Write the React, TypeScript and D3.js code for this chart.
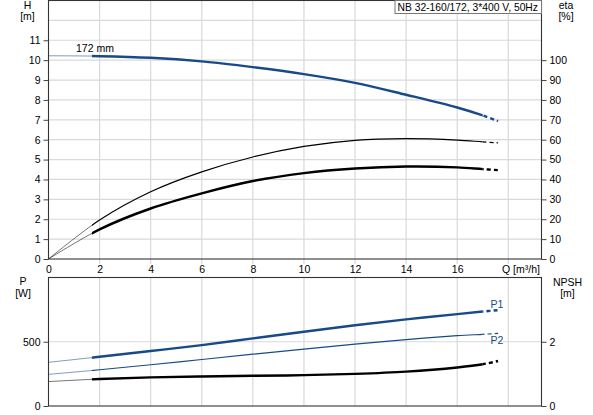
import * as d3 from "d3";
import * as React from "react";

// flow points (m³/h)
const qValues = [0, 2, 4, 6, 8, 10, 12, 14, 16, 17, 17.6];
const headValues = [10.22, 10.2, 10.12, 9.94, 9.65, 9.3, 8.86, 8.26, 7.62, 7.22, 6.94];
const etaPumpValues = [0, 19.6, 33.8, 43.8, 51.3, 56.6, 59.7, 60.5, 59.8, 58.9, 58.4];
const etaTotalValues = [0, 14.9, 25.4, 33, 39.2, 43.2, 45.5, 46.5, 46.1, 45.2, 44.7];
const p1Values = [340, 383, 428, 474, 526, 578, 628, 674, 715, 735, 746];
const p2Values = [246, 282, 321, 362, 403, 443, 482, 517, 547, 558, 565];
const npshValues = [0.76, 0.84, 0.89, 0.92, 0.94, 0.96, 1.0, 1.07, 1.2, 1.3, 1.4];

const qTicks = [0, 2, 4, 6, 8, 10, 12, 14, 16];
const qGrid = [2, 4, 6, 8, 10, 12, 14, 16, 18];
const headTicks = [0, 1, 2, 3, 4, 5, 6, 7, 8, 9, 10, 11];
const headGrid = [1, 2, 3, 4, 5, 6, 7, 8, 9, 10, 11, 12];
const etaTicks = [0, 10, 20, 30, 40, 50, 60, 70, 80, 90, 100];
const powerTicks = [0, 500];
const npshTicks = [0, 2];

const title = "NB 32-160/172, 3*400 V, 50Hz";
const impellerLabel = "172 mm";

const BLUE = "#174a87";
const FONT = "'Liberation Sans', Arial, sans-serif";

export default function App() {
    const ref = React.useRef<SVGSVGElement>(null);

    React.useEffect(() => {
        const svg = d3.select(ref.current!);
        svg.selectAll("*").remove();

        const left = 48.5, right = 541.5;
        const top1 = 0.5, bottom1 = 259;
        const top2 = 277.5, bottom2 = 406;

        const x = d3.scaleLinear().domain([0, 19.3]).range([left, right]);
        const yH = d3.scaleLinear().domain([0, 13]).range([bottom1, top1]);
        const yEta = d3.scaleLinear().domain([0, 130]).range([bottom1, top1]);
        const yP = d3.scaleLinear().domain([0, 1000]).range([bottom2, top2]);
        const yN = d3.scaleLinear().domain([0, 4]).range([bottom2, top2]);

        const g = svg.append("g").attr("font-family", FONT).attr("font-size", 10.5);

        // grid
        const grid = g.append("g").attr("stroke", "#d9d9d9").attr("stroke-width", 1.2);
        grid.selectAll(".v1").data(qGrid).join("line")
            .attr("x1", d => x(d)).attr("x2", d => x(d))
            .attr("y1", top1).attr("y2", bottom1 + 5);
        grid.selectAll(".h1").data(headGrid).join("line")
            .attr("x1", left).attr("x2", right)
            .attr("y1", d => yH(d)).attr("y2", d => yH(d));
        grid.selectAll(".v2").data(qGrid).join("line")
            .attr("x1", d => x(d)).attr("x2", d => x(d))
            .attr("y1", top2).attr("y2", bottom2);
        grid.append("line")
            .attr("x1", left).attr("x2", right)
            .attr("y1", yP(500)).attr("y2", yP(500));

        // clip regions for start / main / dashed end of each curve
        const defs = svg.append("defs");
        const parts = [
            { id: "cStart", x0: x(0) - 3, x1: x(1.7) },
            { id: "cMain", x0: x(1.7), x1: x(17) },
            { id: "cEnd", x0: x(17), x1: right + 10 },
        ];
        parts.forEach(p => defs.append("clipPath").attr("id", p.id)
            .append("rect").attr("x", p.x0).attr("y", 0).attr("width", p.x1 - p.x0).attr("height", 415));

        const drawCurve = (values: number[], y: d3.ScaleLinear<number, number>, color: string, width: number) => {
            const line = d3.line<number>()
                .x((_, i) => x(qValues[i]))
                .y(v => y(v))
                .curve(d3.curveCatmullRom.alpha(0.5));
            const d = line(values)!;
            g.append("path").attr("d", d).attr("fill", "none").attr("stroke", color)
                .attr("stroke-width", 1).attr("stroke-opacity", 0.55).attr("clip-path", "url(#cStart)");
            g.append("path").attr("d", d).attr("fill", "none").attr("stroke", color)
                .attr("stroke-width", width).attr("clip-path", "url(#cMain)");
            g.append("path").attr("d", d).attr("fill", "none").attr("stroke", color)
                .attr("stroke-width", width).attr("stroke-dasharray", "4,3").attr("clip-path", "url(#cEnd)");
        };

        drawCurve(headValues, yH, BLUE, 2.4);
        drawCurve(etaPumpValues, yEta, "#000", 1.2);
        drawCurve(etaTotalValues, yEta, "#000", 2.4);
        drawCurve(p1Values, yP, BLUE, 2.4);
        drawCurve(p2Values, yP, BLUE, 1.2);
        drawCurve(npshValues, yN, "#000", 2.4);

        // frames
        g.append("rect").attr("x", left).attr("y", top1).attr("width", right - left).attr("height", bottom1 - top1)
            .attr("fill", "none").attr("stroke", "#333").attr("stroke-width", 1.1);
        g.append("rect").attr("x", left).attr("y", top2).attr("width", right - left).attr("height", bottom2 - top2)
            .attr("fill", "none").attr("stroke", "#333").attr("stroke-width", 1.1);

        const style = (a: d3.Selection<SVGGElement, unknown, null, undefined>) => {
            a.select(".domain").remove();
            a.selectAll(".tick line").attr("stroke", "#444");
            a.selectAll(".tick text").attr("fill", "#000").attr("font-family", FONT).attr("font-size", 10.5);
        };

        g.append("g").call(d3.axisLeft(yH).tickValues(headTicks).tickSize(5).tickPadding(3).tickFormat(d3.format("d")))
            .attr("transform", `translate(${left},0)`).call(style);
        g.append("g").call(d3.axisRight(yEta).tickValues(etaTicks).tickSize(5).tickPadding(3).tickFormat(d3.format("d")))
            .attr("transform", `translate(${right},0)`).call(style);
        g.append("g").call(d3.axisBottom(x).tickValues(qTicks).tickSize(0).tickPadding(7).tickFormat(d3.format("d")))
            .attr("transform", `translate(0,${bottom1})`).call(style);
        g.append("g").call(d3.axisLeft(yP).tickValues(powerTicks).tickSize(5).tickPadding(3).tickFormat(d3.format("d")))
            .attr("transform", `translate(${left},0)`).call(style);
        g.append("g").call(d3.axisRight(yN).tickValues(npshTicks).tickSize(5).tickPadding(3).tickFormat(d3.format("d")))
            .attr("transform", `translate(${right},0)`).call(style);

        // axis titles
        const label = (tx: number, ty: number, s: string, anchor = "middle", color = "#000") =>
            g.append("text").attr("x", tx).attr("y", ty).attr("text-anchor", anchor).attr("fill", color).text(s);
        label(27.5, 8.5, "H");
        label(27.5, 20, "[m]");
        label(566, 9, "eta");
        label(566, 20, "[%]");
        label(23, 285, "P");
        label(23, 297, "[W]");
        label(567.5, 285.5, "NPSH");
        label(567.5, 297, "[m]");
        label(502, 273, "Q [m³/h]", "start");

        // curve labels
        label(76, 52.3, impellerLabel, "start");
        label(497, 307.7, "P1", "middle", BLUE);
        label(497, 344, "P2", "middle", BLUE);

        // title box
        g.append("rect").attr("x", 395).attr("y", top1).attr("width", right - 395).attr("height", 13)
            .attr("fill", "#fff").attr("stroke", "#777").attr("stroke-width", 1);
        g.append("text").attr("x", 397.5).attr("y", 10.7).attr("font-size", 10.3).text(title);
    }, []);

    return <svg ref={ref} width={593} height={415}
        style={{ position: "absolute", left: 0, top: 0, background: "#fff" }} />;
}
